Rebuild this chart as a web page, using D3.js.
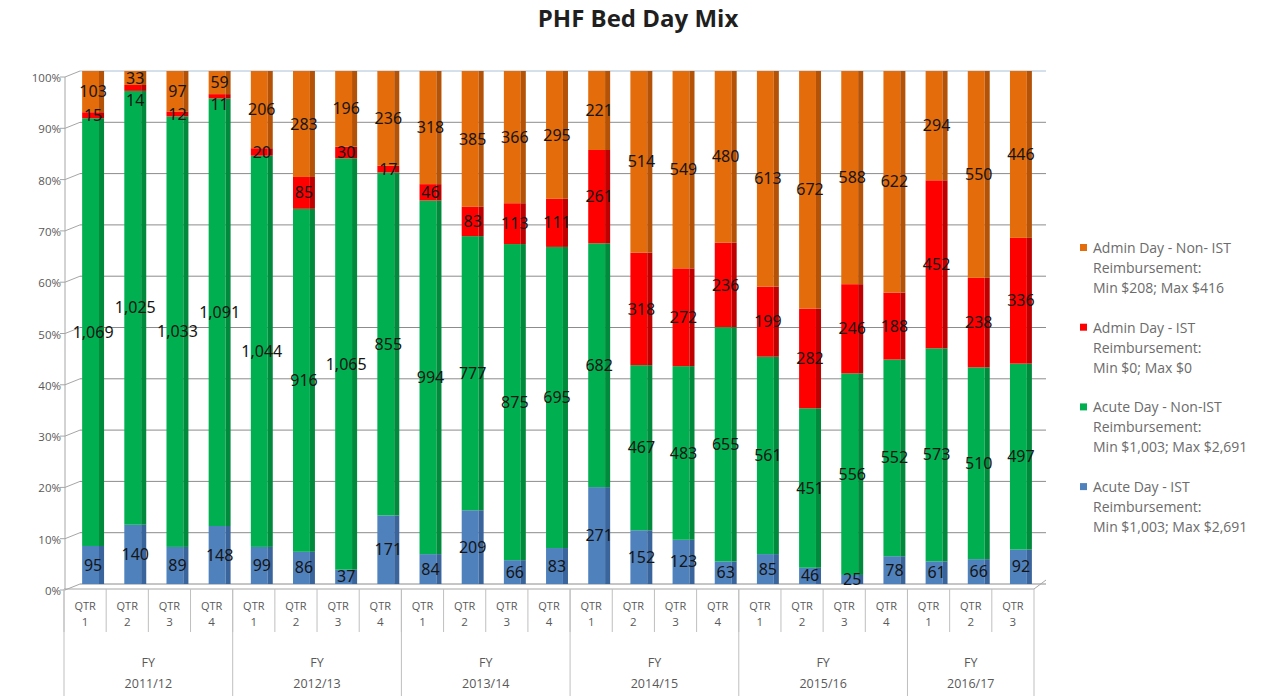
<!DOCTYPE html>
<html>
<head>
<meta charset="utf-8">
<script src="https://cdn.jsdelivr.net/npm/d3@7"></script>
<style>
  body { margin: 0; background: #fff; }
  svg { display: block; font-family: "Open Sans", "Noto Sans", sans-serif; }
</style>
</head>
<body>
<div id="chart"></div>
<script>
// PHF bed day mix - 100% stacked columns by quarter

const fiscalYears = ["2011/12", "2012/13", "2013/14", "2014/15", "2015/16", "2016/17"];
const quartersPerYear = [4, 4, 4, 4, 4, 3];

const acuteIST     = [95, 140, 89, 148, 99, 86, 37, 171, 84, 209, 66, 83, 271, 152, 123, 63, 85, 46, 25, 78, 61, 66, 92];
const acuteNonIST  = [1069, 1025, 1033, 1091, 1044, 916, 1065, 855, 994, 777, 875, 695, 682, 467, 483, 655, 561, 451, 556, 552, 573, 510, 497];
const adminIST     = [15, 14, 12, 11, 20, 85, 30, 17, 46, 83, 113, 111, 261, 318, 272, 236, 199, 282, 246, 188, 452, 238, 336];
const adminNonIST  = [103, 33, 97, 59, 206, 283, 196, 236, 318, 385, 366, 295, 221, 514, 549, 480, 613, 672, 588, 622, 294, 550, 446];

const seriesKeys = ["acuteIST", "acuteNonIST", "adminIST", "adminNonIST"];
const seriesColor = {
    acuteIST: "#4f81bd",
    acuteNonIST: "#00b050",
    adminIST: "#ff0000",
    adminNonIST: "#e46c0a"
};
const seriesSide = {
    acuteIST: "#3a659c",
    acuteNonIST: "#008a3c",
    adminIST: "#c00000",
    adminNonIST: "#b45207"
};

// legend is listed top-down in reverse stack order
const legendItems = [
    { key: "adminNonIST", lines: ["Admin Day - Non- IST", "Reimbursement:", "Min $208; Max $416"] },
    { key: "adminIST", lines: ["Admin Day - IST", "Reimbursement:", "Min $0; Max $0"] },
    { key: "acuteNonIST", lines: ["Acute Day - Non-IST", "Reimbursement:", "Min $1,003; Max $2,691"] },
    { key: "acuteIST", lines: ["Acute Day - IST", "Reimbursement:", "Min $1,003; Max $2,691"] }
];

// build the rows
const rows = [];
let k = 0;
fiscalYears.forEach((fy, yi) => {
    for (let q = 1; q <= quartersPerYear[yi]; q++) {
        rows.push({
            idx: k, fy: fy, q: q,
            acuteIST: acuteIST[k], acuteNonIST: acuteNonIST[k],
            adminIST: adminIST[k], adminNonIST: adminNonIST[k]
        });
        k++;
    }
});

const width = 1273, height = 696;
const depthX = 15;
const labelSize = 16;

const svg = d3.select("#chart").append("svg")
    .attr("width", width).attr("height", height);

const x = d3.scaleBand()
    .domain(rows.map(d => d.idx))
    .range([64, 1034])
    .padding(0);

const y = d3.scaleLinear().domain([0, 1]).range([584, 71]);   // back wall
const yFront = d3.scaleLinear().domain([0, 1]).range([590, 77]);

const stack = d3.stack().keys(seriesKeys).offset(d3.stackOffsetExpand);
const stacked = stack(rows);

// title
svg.append("text")
    .attr("x", 638).attr("y", 27)
    .attr("text-anchor", "middle")
    .attr("font-size", 24).attr("font-weight", "bold")
    .attr("fill", "#1f1f1f")
    .text("PHF Bed Day Mix");

// gridlines on back wall, with diagonal connectors to front axis
const ticks = d3.range(0, 1.0001, 0.1);
const grid = svg.append("g");
grid.selectAll("line.grid")
    .data(ticks)
    .join("line")
    .attr("x1", 65 + depthX).attr("x2", 1046)
    .attr("y1", d => y(d)).attr("y2", d => y(d))
    .attr("stroke", d => d === 1 ? "#a9c0d6" : "#8c8c8c")
    .attr("stroke-width", 1);
grid.selectAll("line.conn")
    .data(ticks)
    .join("line")
    .attr("x1", 65).attr("y1", d => yFront(d))
    .attr("x2", 65 + depthX).attr("y2", d => y(d))
    .attr("stroke", "#a6a6a6");
grid.append("line")
    .attr("x1", 65).attr("x2", 65)
    .attr("y1", yFront(1)).attr("y2", yFront(0))
    .attr("stroke", "#a6a6a6");
grid.selectAll("line.tick")
    .data(ticks)
    .join("line")
    .attr("x1", 60).attr("x2", 65)
    .attr("y1", d => yFront(d)).attr("y2", d => yFront(d))
    .attr("stroke", "#a6a6a6");

// floor edges
grid.append("line")
    .attr("x1", 64).attr("x2", 1034)
    .attr("y1", 589).attr("y2", 589)
    .attr("stroke", "#a6a6a6");
grid.append("line")
    .attr("x1", 1034).attr("y1", 589)
    .attr("x2", 1046).attr("y2", y(0) - 4)
    .attr("stroke", "#a6a6a6");

// y axis labels
svg.append("g")
    .selectAll("text")
    .data(ticks)
    .join("text")
    .attr("x", 61).attr("y", d => yFront(d) + 1)
    .attr("dy", "0.35em")
    .attr("text-anchor", "end")
    .attr("font-size", 11.5)
    .attr("fill", "#595959")
    .text(d => d3.format(".0%")(d));

// bars
const bw = x.bandwidth();
const frontX = d => x(d.data.idx) + bw * 0.43;
const frontW = bw * 0.40;
const sideW = bw * 0.12;

const layers = svg.append("g")
    .selectAll("g")
    .data(stacked)
    .join("g");

layers.selectAll("rect.front")
    .data(s => s.map(d => Object.assign(d, { key: s.key })))
    .join("rect")
    .attr("class", "front")
    .attr("x", frontX)
    .attr("width", frontW)
    .attr("y", d => y(d[1]))
    .attr("height", d => y(d[0]) - y(d[1]))
    .attr("fill", d => seriesColor[d.key]);

layers.selectAll("rect.side")
    .data(s => s)
    .join("rect")
    .attr("class", "side")
    .attr("x", d => frontX(d) + frontW)
    .attr("width", sideW)
    .attr("y", d => y(d[1]))
    .attr("height", d => y(d[0]) - y(d[1]))
    .attr("fill", d => seriesSide[d.key]);

// data labels: mid-segment, pushed down where thin segments collide
const minGap = labelSize * 1.38;
const labels = [];
rows.forEach((r, i) => {
    let prevY = -Infinity;
    for (let si = stacked.length - 1; si >= 0; si--) {
        const d = stacked[si][i];
        let ly = (y(d[0]) + y(d[1])) / 2;
        if (ly < prevY + minGap) ly = prevY + minGap;
        prevY = ly;
        labels.push({ x: frontX(d) + (frontW + sideW) / 2, y: ly, v: r[stacked[si].key] });
    }
});

const fmt = d3.format(",");
svg.append("g")
    .selectAll("text")
    .data(labels)
    .join("text")
    .attr("x", d => d.x)
    .attr("y", d => d.y)
    .attr("dy", "0.35em")
    .attr("text-anchor", "middle")
    .attr("font-size", labelSize)
    .attr("font-family", "'Noto Sans', sans-serif")
    .attr("fill", "#151515")
    .text(d => fmt(d.v));

// category axis box
const axisG = svg.append("g");
axisG.selectAll("line.q")
    .data(rows)
    .join("line")
    .attr("x1", d => x(d.idx)).attr("x2", d => x(d.idx))
    .attr("y1", 589).attr("y2", 632)
    .attr("stroke", "#bfbfbf");

const yearStarts = [];
let s0 = 0;
quartersPerYear.forEach((n, i) => {
    yearStarts.push({ fy: fiscalYears[i], start: s0, end: s0 + n });
    s0 += n;
});
const xEdge = i => i < rows.length ? x(i) : x(rows.length - 1) + bw;

axisG.selectAll("line.y")
    .data(yearStarts.map(d => d.start).concat([rows.length]))
    .join("line")
    .attr("x1", d => xEdge(d)).attr("x2", d => xEdge(d))
    .attr("y1", 589).attr("y2", height)
    .attr("stroke", "#bfbfbf");

axisG.selectAll("text.qtr")
    .data(rows)
    .join("text")
    .attr("x", d => x(d.idx) + bw / 2)
    .attr("y", 610)
    .attr("text-anchor", "middle")
    .attr("font-size", 11)
    .attr("fill", "#595959")
    .text("QTR");
axisG.selectAll("text.qn")
    .data(rows)
    .join("text")
    .attr("x", d => x(d.idx) + bw / 2)
    .attr("y", 626)
    .attr("text-anchor", "middle")
    .attr("font-size", 11.5)
    .attr("fill", "#595959")
    .text(d => d.q);

axisG.selectAll("text.fy")
    .data(yearStarts)
    .join("text")
    .attr("x", d => (xEdge(d.start) + xEdge(d.end)) / 2)
    .attr("y", 667)
    .attr("text-anchor", "middle")
    .attr("font-size", 12.5)
    .attr("fill", "#595959")
    .text("FY");
axisG.selectAll("text.fyn")
    .data(yearStarts)
    .join("text")
    .attr("x", d => (xEdge(d.start) + xEdge(d.end)) / 2)
    .attr("y", 688)
    .attr("text-anchor", "middle")
    .attr("font-size", 12.5)
    .attr("fill", "#595959")
    .text(d => d.fy);

// legend
const legend = svg.append("g").attr("transform", "translate(1080, 248)");
const item = legend.selectAll("g")
    .data(legendItems)
    .join("g")
    .attr("transform", (d, i) => `translate(0, ${i * 79.7})`);
item.append("rect")
    .attr("x", 0).attr("y", -4)
    .attr("width", 7).attr("height", 7)
    .attr("fill", d => seriesColor[d.key]);
item.selectAll("text")
    .data(d => d.lines)
    .join("text")
    .attr("x", 13)
    .attr("y", (d, i) => i * 20)
    .attr("dy", "0.35em")
    .attr("font-size", 14)
    .attr("fill", "#6b6b6b")
    .text(d => d);
</script>
</body>
</html>
